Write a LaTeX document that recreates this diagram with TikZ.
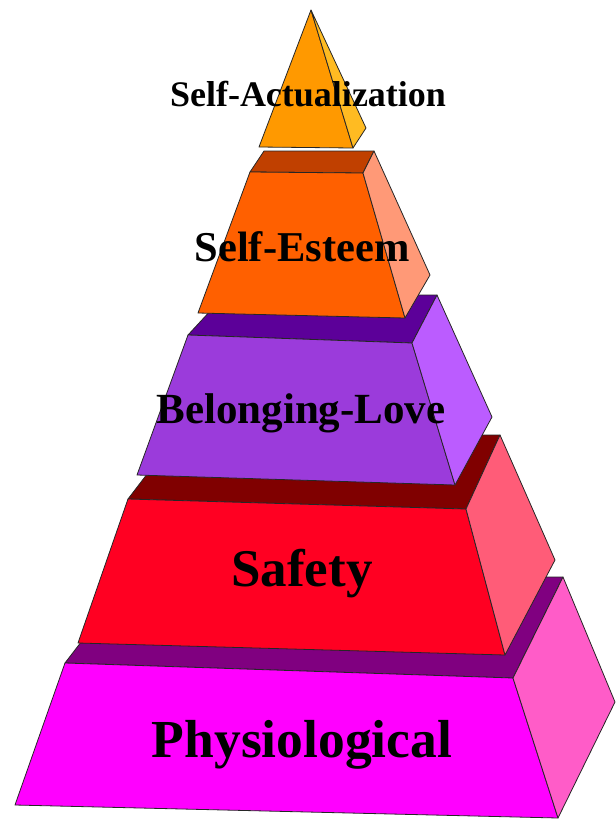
\documentclass[tikz,border=0pt]{standalone}
\usepackage{fontspec}
\setmainfont{Liberation Serif}
\usepackage{xcolor}
\definecolor{phyF}{RGB}{255,0,255}
\definecolor{phyT}{RGB}{128,0,128}
\definecolor{phyR}{RGB}{255,92,200}
\definecolor{safF}{RGB}{255,0,34}
\definecolor{safT}{RGB}{128,0,0}
\definecolor{safR}{RGB}{255,92,120}
\definecolor{belF}{RGB}{155,59,219}
\definecolor{belT}{RGB}{92,0,153}
\definecolor{belR}{RGB}{187,92,255}
\definecolor{estF}{RGB}{255,96,0}
\definecolor{estT}{RGB}{192,64,0}
\definecolor{estR}{RGB}{255,153,119}
\definecolor{actF}{RGB}{255,153,0}
\definecolor{actR}{RGB}{255,187,34}

\begin{document}
\begin{tikzpicture}[x=1pt, y=-1pt,
    face/.style={fill=#1, draw=black!85, line width=0.8pt, line join=round},
    lbl/.style={font=\bfseries\fontsize{#1}{#1}\selectfont, anchor=base, inner sep=0pt}]

    \useasboundingbox (0,0) rectangle (616,820);

    % physiological tier
    \draw[face=phyT] (65,663) -- (131,577) -- (563,577) -- (513,678) -- cycle;
    \draw[face=phyF] (65,663) -- (513,678) -- (558,818) -- (15,805) -- cycle;
    \draw[face=phyR] (513,678) -- (563,577) -- (615,702) -- (558,818) -- cycle;

    % safety tier
    \draw[face=safT] (128,499) -- (177,435) -- (500,435) -- (466,509) -- cycle;
    \draw[face=safF] (128,499) -- (466,509) -- (505,655) -- (78,643) -- cycle;
    \draw[face=safR] (466,509) -- (500,435) -- (555,560) -- (505,655) -- cycle;

    % belonging tier
    \draw[face=belT] (188,335) -- (225,295) -- (437,295) -- (412,343) -- cycle;
    \draw[face=belF] (188,335) -- (412,343) -- (455,485) -- (137,475) -- cycle;
    \draw[face=belR] (412,343) -- (437,295) -- (492,417) -- (455,485) -- cycle;

    % esteem tier
    \draw[face=estT] (250,172) -- (264,151) -- (374,151) -- (363,173) -- cycle;
    \draw[face=estF] (250,172) -- (363,173) -- (405,318) -- (198,313) -- cycle;
    \draw[face=estR] (363,173) -- (374,151) -- (430,275) -- (405,318) -- cycle;

    % top
    \draw[face=actF] (311,10) -- (353,148) -- (259,147) -- cycle;
    \draw[face=actR] (311,10) -- (366,128) -- (353,148) -- cycle;

    % labels
    \node[lbl=36] (actual) at (308,106) {Self-Actualization};
    \node[lbl=42.5] (esteem) at (302,261) {Self-Esteem};
    \node[lbl=43] (love) at (301,423) {Belonging-Love};
    \node[lbl=53] (safety) at (302,586) {Safety};
    \node[lbl=53.5] (physio) at (302,757) {Physiological};
\end{tikzpicture}
\end{document}
